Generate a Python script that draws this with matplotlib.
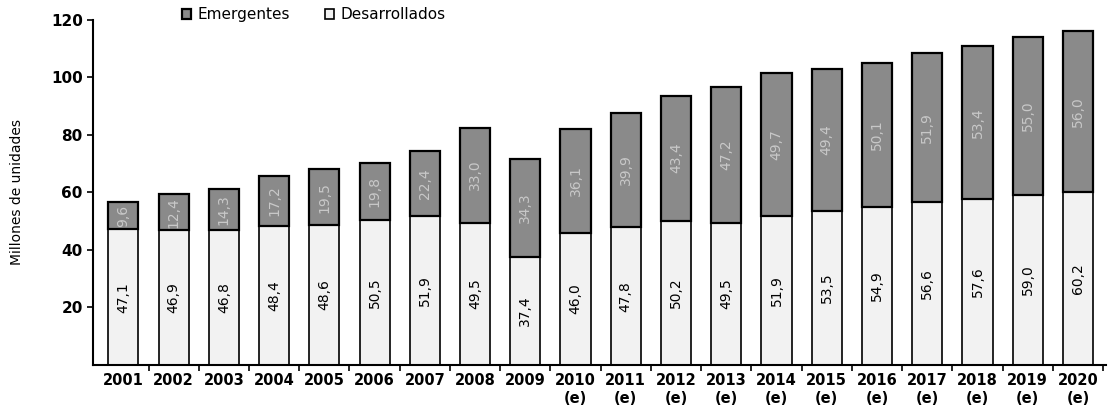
import matplotlib
matplotlib.use("Agg")
import matplotlib.pyplot as plt
import numpy as np

years = ["2001", "2002", "2003", "2004", "2005", "2006", "2007", "2008", "2009", "2010",
         "2011", "2012", "2013", "2014", "2015", "2016", "2017", "2018", "2019", "2020"]
estimated = [False] * 9 + [True] * 11
desarrollados = [47.1, 46.9, 46.8, 48.4, 48.6, 50.5, 51.9, 49.5, 37.4, 46.0,
                 47.8, 50.2, 49.5, 51.9, 53.5, 54.9, 56.6, 57.6, 59.0, 60.2]
emergentes = [9.6, 12.4, 14.3, 17.2, 19.5, 19.8, 22.4, 33.0, 34.3, 36.1,
              39.9, 43.4, 47.2, 49.7, 49.4, 50.1, 51.9, 53.4, 55.0, 56.0]

def fmt(v):
    return f"{v:.1f}".replace(".", ",")

fig = plt.figure(figsize=(11.10, 4.11), dpi=100)
ax = fig.add_axes([0.084, 0.112, 0.912, 0.84])

x = np.arange(len(years))
w = 0.6
b1 = ax.bar(x, desarrollados, width=w, color="#f2f2f2", edgecolor="black", linewidth=1.2,
            label="Desarrollados")
b2 = ax.bar(x, emergentes, width=w, bottom=desarrollados, color="#8a8a8a", edgecolor="black",
            linewidth=1.6, label="Emergentes")

for xi, d, e in zip(x, desarrollados, emergentes):
    ax.text(xi, d / 2, fmt(d), rotation=90, ha="center", va="center", fontsize=10,
            color="black")
    ax.text(xi, d + e / 2, fmt(e), rotation=90, ha="center", va="center", fontsize=10,
            color="#c8c8c8")

ax.set_xlim(-0.6, 19.55)
ax.set_ylim(0, 120)
ax.set_yticks([20, 40, 60, 80, 100, 120])
ax.set_yticklabels(["20", "40", "60", "80", "100", "120"], fontsize=11, fontweight="bold")
ax.set_xticks(x)
ax.set_xticklabels([y + ("\n(e)" if e else "") for y, e in zip(years, estimated)],
                   fontsize=10.5, fontweight="bold", va="top")
ax.tick_params(axis="x", length=0, pad=6)
ax.set_xticks(np.arange(len(years)) + 0.5, minor=True)
ax.tick_params(axis="x", which="minor", length=4, direction="out", width=1.2)
ax.tick_params(axis="y", length=4, direction="out", width=1.2)

for s in ["top", "right"]:
    ax.spines[s].set_visible(False)
for s in ["left", "bottom"]:
    ax.spines[s].set_linewidth(1.5)

ax.set_ylabel("Millones de unidades", fontsize=10)
ax.yaxis.set_label_coords(-0.068, 0.5)

leg = ax.legend(handles=[b2, b1], loc="center left", bbox_to_anchor=(0.086, 1.014), ncol=2,
                frameon=False, fontsize=11, handlelength=0.6, handleheight=0.6,
                columnspacing=2.3, handletextpad=0.4, borderpad=0.1, borderaxespad=0)

fig.savefig("out.png", dpi=100)
